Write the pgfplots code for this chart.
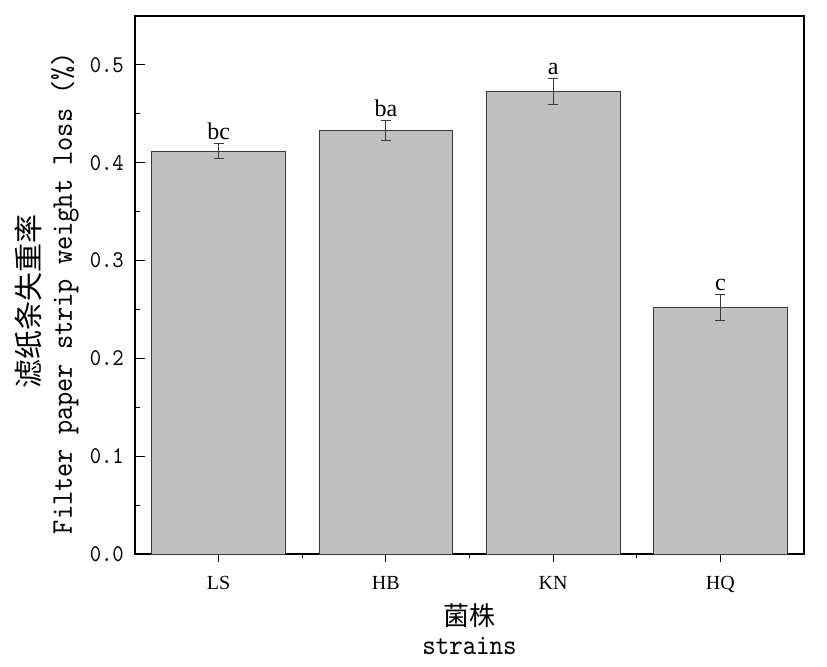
\documentclass[border=0pt]{standalone}
\usepackage{pgfplots}
\pgfplotsset{compat=1.18}
\usepackage{fontspec}
\setmainfont{Liberation Serif}
\newfontfamily\simmono[FakeStretch=0.9, Extension=.otf]{lmmono10-regular}
\newfontfamily\cjk{Noto Sans CJK SC}
\definecolor{barfill}{HTML}{C0C0C0}
\definecolor{bardraw}{HTML}{3A3A3A}
\begin{document}
\begin{tikzpicture}
\useasboundingbox (-135bp,-113bp) rectangle (692bp,554bp);
\begin{axis}[
  at={(0,0)}, anchor=south west,
  scale only axis, width=669bp, height=538bp,
  xmin=-0.5, xmax=3.5, ymin=0, ymax=0.55,
  xtick={0,1,2,3}, xticklabels={LS,HB,KN,HQ},
  minor xtick={0.5,1.5,2.5},
  ytick={0,0.1,0.2,0.3,0.4,0.5},
  minor y tick num=1,
  tick align=inside,
  xtick pos=bottom, ytick pos=left,
  axis line style={line width=1.3bp, black},
  xtick style={line width=1bp, black, /pgfplots/major tick length=8bp, /pgfplots/minor tick length=4bp},
  ytick style={line width=1bp, black, /pgfplots/major tick length=10bp, /pgfplots/minor tick length=5bp},
  /pgf/number format/assume math mode=true,
  yticklabel style={font=\simmono\fontsize{24bp}{28bp}\selectfont, inner sep=0pt, xshift=-11bp,
    /pgf/number format/.cd, fixed, fixed zerofill, precision=1},
  xticklabel style={font=\fontsize{20bp}{24bp}\selectfont, inner sep=0pt, yshift=-18bp},
  ybar, bar width=0.8,
  clip=false,
]
\addplot[fill=barfill, draw=bardraw, line width=0.8bp,
  error bars/.cd, y dir=both, y explicit,
  error bar style={line width=1bp, color=bardraw},
  error mark options={rotate=90, mark size=5bp, line width=1bp, color=bardraw}]
  coordinates {
    (0,0.412) +- (0,0.008)
    (1,0.433) +- (0,0.010)
    (2,0.473) +- (0,0.013)
    (3,0.252) +- (0,0.013)
  };
\node[anchor=base, yshift=4bp, inner sep=0pt, font=\fontsize{24bp}{28bp}\selectfont] at (axis cs:0,0.420) {bc};
\node[anchor=base, yshift=4bp, inner sep=0pt, font=\fontsize{24bp}{28bp}\selectfont] at (axis cs:1,0.443) {ba};
\node[anchor=base, yshift=4bp, inner sep=0pt, font=\fontsize{24bp}{28bp}\selectfont] at (axis cs:2,0.486) {a};
\node[anchor=base, yshift=4bp, inner sep=0pt, font=\fontsize{24bp}{28bp}\selectfont] at (axis cs:3,0.265) {c};
\node[anchor=base, rotate=90, inner sep=0pt, font=\cjk\fontsize{29bp}{32bp}\selectfont] at ([xshift=-95bp]rel axis cs:0,0.470) {滤纸条失重率};
\node[anchor=base, rotate=90, inner sep=0pt, font=\simmono\fontsize{30bp}{34bp}\selectfont] at ([xshift=-63bp]rel axis cs:0,0.485) {Filter paper strip weight loss (\%)};
\node[anchor=base, inner sep=0pt, font=\cjk\fontsize{26bp}{30bp}\selectfont] at ([yshift=-71bp]rel axis cs:0.5,0) {菌株};
\node[anchor=base, inner sep=0pt, font=\simmono\fontsize{28.5bp}{32bp}\selectfont] at ([yshift=-100bp]rel axis cs:0.5,0) {strains};
\end{axis}
\end{tikzpicture}
\end{document}
